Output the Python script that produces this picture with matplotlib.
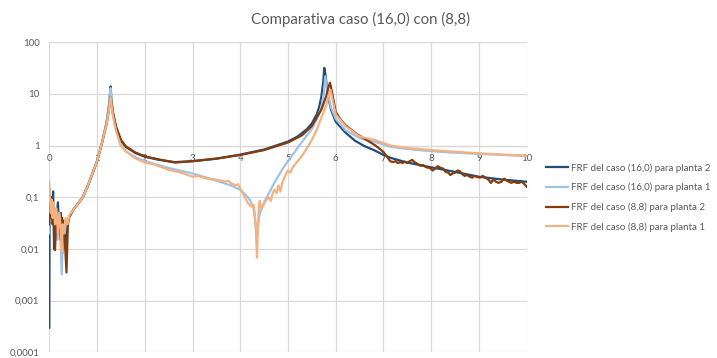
import matplotlib
matplotlib.use("Agg")
import matplotlib.pyplot as plt

plt.rcParams['font.family'] = ['Lato', 'DejaVu Sans']

title = "Comparativa caso (16,0) con (8,8)"
labels = ["FRF del caso (16,0) para planta 2",
          "FRF del caso (16,0) para planta 1",
          "FRF del caso (8,8) para planta 2",
          "FRF del caso (8,8) para planta 1"]
colors = ["#1F4E79", "#9DC3E6", "#843C0C", "#F4B183"]

ytick_vals = [1e-4, 1e-3, 1e-2, 1e-1, 1, 10, 100]
ytick_labels = ["0,0001", "0,001", "0,01", "0,1", "1", "10", "100"]
xtick_vals = list(range(0, 11))

# (16,0) planta 2
x1 = [0, 0.005, 0.02, 0.04, 0.06, 0.08, 0.1, 0.12, 0.15, 0.18, 0.21, 0.24, 0.27, 0.3, 0.34, 0.38,
      0.42, 0.5, 0.6, 0.7, 0.8, 0.9, 1.0, 1.1, 1.2, 1.25, 1.27, 1.285, 1.3, 1.33, 1.4, 1.5, 1.6, 1.8,
      2.0, 2.3, 2.63, 3.0, 3.5, 4.0, 4.5, 5.0, 5.2, 5.4, 5.5, 5.6, 5.65, 5.7, 5.74, 5.76, 5.79, 5.83,
      5.9, 6.0, 6.2, 6.4, 6.6, 6.8, 7.0, 7.15, 7.5, 8.0, 8.5, 9.0, 9.5, 10]
y1 = [0.0003, 0.02, 0.06, 0.1, 0.05, 0.13, 0.01, 0.06, 0.03, 0.08, 0.025, 0.05, 0.008, 0.035, 0.01, 0.035,
      0.042, 0.057, 0.075, 0.1, 0.16, 0.28, 0.5, 1.1, 2.8, 6, 10, 14, 8, 4.5, 2.2, 1.25, 0.95, 0.72,
      0.61, 0.53, 0.48, 0.5, 0.56, 0.67, 0.84, 1.2, 1.5, 2.1, 2.7, 4.0, 5.5, 9, 18, 32, 22, 10,
      5, 2.9, 1.8, 1.25, 0.98, 0.82, 0.66, 0.58, 0.47, 0.38, 0.31, 0.25, 0.22, 0.2]

# (16,0) planta 1
x2 = [0, 0.005, 0.02, 0.05, 0.08, 0.11, 0.14, 0.17, 0.2, 0.23, 0.26, 0.29, 0.32, 0.36, 0.42, 0.5, 0.6,
      0.7, 0.8, 0.9, 1.0, 1.1, 1.2, 1.25, 1.27, 1.285, 1.3, 1.33, 1.4, 1.5, 1.6, 1.8, 2.0, 2.5, 3.0,
      3.5, 3.8, 4.0, 4.1, 4.2, 4.28, 4.35, 4.4, 4.5, 4.6, 4.7, 4.8, 4.9, 5.0, 5.2, 5.4, 5.5, 5.6, 5.7,
      5.75, 5.78, 5.82, 5.9, 6.0, 6.2, 6.5, 6.8, 7.0, 7.15, 7.5, 8, 8.5, 9, 9.5, 10]
y2 = [0.02, 0.15, 0.03, 0.08, 0.05, 0.03, 0.06, 0.015, 0.05, 0.02, 0.0032, 0.03, 0.02, 0.035, 0.042, 0.057, 0.075,
      0.1, 0.16, 0.28, 0.5, 1.1, 2.8, 6, 10, 13, 7, 4, 1.9, 1.0, 0.78, 0.6, 0.5, 0.37, 0.29,
      0.21, 0.17, 0.14, 0.115, 0.09, 0.06, 0.02, 0.045, 0.08, 0.12, 0.18, 0.26, 0.37, 0.5, 0.9, 1.6, 2.1, 3.2, 5.5,
      10, 22, 12, 5.5, 3.3, 2.0, 1.4, 1.2, 1.05, 0.95, 0.86, 0.78, 0.73, 0.69, 0.66, 0.63]

# (8,8) planta 2
x3 = [0, 0.01, 0.03, 0.05, 0.07, 0.1, 0.12, 0.15, 0.18, 0.21, 0.24, 0.27, 0.3, 0.33, 0.36, 0.39, 0.42,
      0.5, 0.6, 0.7, 0.8, 0.9, 1.0, 1.1, 1.2, 1.25, 1.28, 1.3, 1.33, 1.4, 1.5, 1.6, 1.8, 2.0, 2.3, 2.63,
      3.0, 3.5, 4.0, 4.5, 5.0, 5.3, 5.5, 5.7, 5.8, 5.85, 5.88, 5.92, 6.0, 6.1, 6.2, 6.4, 6.5, 6.7, 6.8,
      6.9, 7.0, 7.07, 7.14, 7.2, 7.25, 7.3, 7.35, 7.4, 7.45, 7.5, 7.55, 7.6, 7.65, 7.7, 7.77, 7.83, 7.9,
      7.97, 8.03, 8.08, 8.14, 8.2, 8.25, 8.3, 8.36, 8.4, 8.45, 8.5, 8.55, 8.6, 8.65, 8.7, 8.75, 8.81,
      8.86, 8.9, 8.95, 9.02, 9.08, 9.13, 9.2, 9.25, 9.3, 9.36, 9.41, 9.47, 9.53, 9.58, 9.63, 9.68,
      9.73, 9.79, 9.84, 9.9, 9.95, 10.0]
y3 = [0.03, 0.1, 0.04, 0.08, 0.03, 0.06, 0.0095, 0.05, 0.03, 0.045, 0.015, 0.04, 0.02, 0.012, 0.0035, 0.03, 0.042,
      0.057, 0.075, 0.1, 0.16, 0.28, 0.5, 1.1, 2.6, 5, 8.5, 7, 4.5, 2.3, 1.3, 0.97, 0.74, 0.62, 0.54, 0.47,
      0.5, 0.56, 0.66, 0.82, 1.15, 1.6, 2.4, 5, 9, 14, 16.5, 11, 4.5, 3.2, 2.5, 1.8, 1.55, 1.2, 1.05,
      0.9, 0.75, 0.62, 0.5, 0.48, 0.5, 0.46, 0.48, 0.46, 0.49, 0.46, 0.5, 0.53, 0.48, 0.45, 0.41, 0.42, 0.38,
      0.37, 0.33, 0.36, 0.4, 0.37, 0.36, 0.31, 0.3, 0.27, 0.29, 0.3, 0.33, 0.32, 0.28, 0.26, 0.27, 0.25,
      0.24, 0.26, 0.25, 0.24, 0.26, 0.24, 0.22, 0.19, 0.22, 0.2, 0.19, 0.2, 0.23, 0.21, 0.2, 0.19,
      0.2, 0.19, 0.19, 0.2, 0.18, 0.16]

# (8,8) planta 1
x4 = [0, 0.01, 0.03, 0.05, 0.07, 0.09, 0.12, 0.15, 0.18, 0.21, 0.24, 0.26, 0.28, 0.31, 0.34, 0.38, 0.42,
      0.5, 0.6, 0.7, 0.8, 0.9, 1.0, 1.1, 1.2, 1.25, 1.285, 1.3, 1.33, 1.4, 1.5, 1.6, 1.8, 2.0, 2.2, 2.5,
      2.7, 2.9, 3.0, 3.1, 3.3, 3.5, 3.6, 3.7, 3.75, 3.8, 3.9, 3.95, 4.0, 4.05, 4.1, 4.15, 4.2, 4.25,
      4.28, 4.31, 4.33, 4.35, 4.37, 4.39, 4.41, 4.44, 4.48, 4.55, 4.6, 4.64, 4.68, 4.72, 4.76, 4.8,
      4.84, 4.88, 4.93, 4.97, 5.0, 5.05, 5.1, 5.2, 5.3, 5.4, 5.5, 5.6, 5.7, 5.8, 5.85, 5.89, 5.93,
      6.0, 6.2, 6.5, 6.8, 7.0, 7.15, 7.5, 8, 8.5, 9, 9.5, 10]
y4 = [0.2, 0.12, 0.05, 0.09, 0.04, 0.08, 0.03, 0.06, 0.02, 0.05, 0.025, 0.009, 0.03, 0.02, 0.04, 0.03, 0.045,
      0.057, 0.075, 0.1, 0.16, 0.28, 0.5, 1.1, 2.6, 5, 8.5, 6.5, 4, 1.9, 1.0, 0.78, 0.57, 0.47, 0.43, 0.34,
      0.31, 0.27, 0.25, 0.26, 0.23, 0.22, 0.21, 0.2, 0.21, 0.19, 0.17, 0.18, 0.15, 0.12, 0.1, 0.08, 0.07, 0.065,
      0.072, 0.04, 0.02, 0.0068, 0.025, 0.07, 0.085, 0.06, 0.07, 0.09, 0.1, 0.085, 0.12, 0.14, 0.12, 0.17,
      0.13, 0.19, 0.25, 0.3, 0.33, 0.3, 0.38, 0.5, 0.65, 0.9, 1.3, 2.0, 3.5, 6, 9.5, 12, 8,
      4.0, 2.4, 1.5, 1.3, 1.12, 1.0, 0.9, 0.82, 0.76, 0.71, 0.67, 0.64]

series = [(x1, y1), (x2, y2), (x3, y3), (x4, y4)]

W, H = 717, 358
fig = plt.figure(figsize=(W / 100, H / 100), dpi=100)
ax = fig.add_axes([49.3 / W, 1 - 352.3 / H, (526.7 - 49.3) / W, (352.3 - 42.3) / H])

grid_c = "#D9D9D9"
text_c = "#595959"

handles = []
for (xs, ys), c, lab in zip(series, colors, labels):
    h, = ax.plot(xs, ys, color=c, lw=1.6, label=lab, solid_joinstyle='round')
    handles.append(h)

ax.set_yscale('log')
ax.set_xlim(0, 10)
ax.set_ylim(1e-4, 100)
ax.set_yticks(ytick_vals)
ax.set_yticklabels(ytick_labels)
ax.minorticks_off()
ax.set_xticks(xtick_vals)
ax.set_xticklabels([str(v) for v in xtick_vals])
ax.grid(True, color=grid_c, lw=0.9)
ax.set_axisbelow(True)
for s in ['top', 'right', 'left']:
    ax.spines[s].set_visible(False)
ax.spines['bottom'].set_position(('data', 1))
ax.spines['bottom'].set_color(grid_c)
ax.spines['bottom'].set_linewidth(0.9)
ax.spines['bottom'].set_zorder(0.5)
ax.tick_params(axis='both', length=0, labelsize=7, colors=text_c)
ax.tick_params(axis='x', pad=6)
ax.tick_params(axis='y', pad=7)

fig.text(360.5 / W, 1 - 19 / H, title, ha='center', va='center', fontsize=10.8, color=text_c)

fig.legend(handles=handles, labels=labels, loc='upper left',
           bbox_to_anchor=(546 / W, 1 - 163 / H), frameon=False,
           fontsize=7, handlelength=2.3, handletextpad=0.3, labelspacing=1.05,
           labelcolor=text_c, borderaxespad=0, borderpad=0)

fig.savefig("out.png", dpi=100)
